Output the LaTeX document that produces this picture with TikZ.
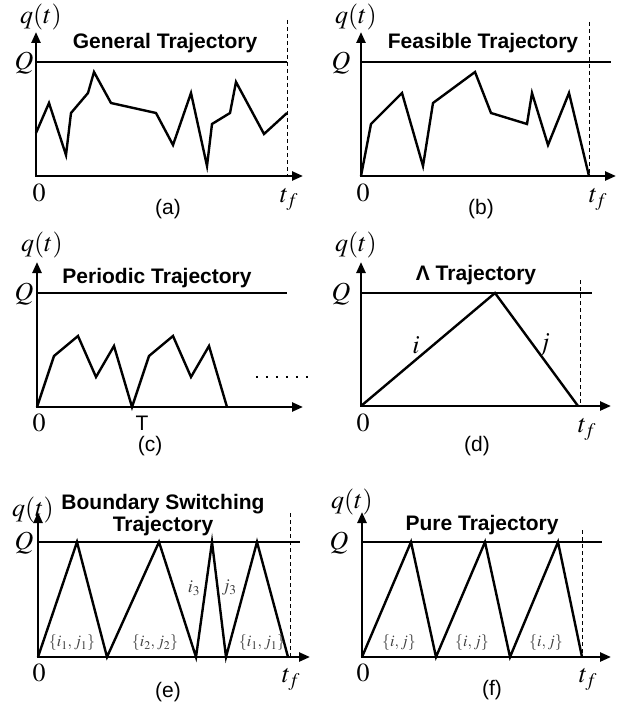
\documentclass[tikz,border=0pt]{standalone}
\usepackage{mathptmx}
\usepackage{fontspec}
\newfontfamily\arial{Liberation Sans}
\usetikzlibrary{arrows.meta}

\tikzset{
  trajline/.style={line width=2.4pt, line join=miter},
  axisline/.style={line width=2.4pt, {Triangle[length=11pt,width=9pt]}-{Triangle[length=11pt,width=9pt]}},
  capline/.style={line width=2.4pt},
  tfline/.style={line width=0.8pt, dash pattern=on 4pt off 3pt},
  titlefont/.style={font=\arial\bfseries\fontsize{21}{22}\selectfont, align=center},
  subfont/.style={font=\arial\fontsize{21}{23}\selectfont},
  mathfont/.style={font=\fontsize{26}{28}\selectfont},
  pairfont/.style={font=\fontsize{16}{18}\selectfont, text=black!75},
}

\begin{document}
\begin{tikzpicture}[x=1pt,y=-1pt]
\useasboundingbox (0,0) rectangle (628,706);

% (a) general
\draw [axisline] (36,32) -- (36,176) -- (303,176);
\draw [capline] (36,62) -- (287,62);
\draw [tfline] (287,20) -- (287,176);
\draw [trajline] (36,133) -- (49,103) -- (66,155) -- (71,113) -- (88,93) -- (94,72) -- (111,103)
  -- (156,113) -- (173,145) -- (191,93) -- (207,166) -- (212,124) -- (230,113) -- (236,82)
  -- (264,134) -- (287,113);
\node [titlefont] (tita) at (165,43) {General Trajectory};
\node [mathfont, anchor=north] (qa) at (41,0) {$q(t)$};
\node [mathfont] (Qa) at (24,63) {$Q$};
\node [mathfont] (za) at (39,193) {$0$};
\node [mathfont] (tfa) at (289,199) {$t_f$};
\node [subfont] (suba) at (168,209) {(a)};

% (b) feasible
\draw [axisline] (361,32) -- (361,176) -- (616,176);
\draw [capline] (361,62) -- (611,62);
\draw [tfline] (589,22) -- (589,176);
\draw [trajline] (361,176) -- (371,124) -- (402,93) -- (423,166) -- (433,103) -- (475,72)
  -- (491,113) -- (527,124) -- (532,93) -- (548,145) -- (569,93) -- (589,176);
\node [titlefont] (titb) at (483,43) {Feasible Trajectory};
\node [mathfont, anchor=north] (qb) at (356,0) {$q(t)$};
\node [mathfont] (Qb) at (341,63) {$Q$};
\node [mathfont] (zb) at (363,193) {$0$};
\node [mathfont] (tfb) at (598,199) {$t_f$};
\node [subfont] (subb) at (481,209) {(b)};

% (c) periodic
\draw [axisline] (37,262) -- (37,407) -- (303,407);
\draw [capline] (37,293) -- (287,293);
\draw [trajline] (37,407) -- (54,356) -- (78,336) -- (96,377) -- (114,346) -- (132,407)
  -- (149,356) -- (173,336) -- (191,377) -- (209,346) -- (227,407);
\draw [line width=2.4pt, dash pattern=on 2.4pt off 7.6pt] (256,377) -- (310,377);
\node [titlefont] (titc) at (157,278) {Periodic Trajectory};
\node [mathfont] (qc) at (42,245) {$q(t)$};
\node [mathfont] (Qc) at (24,294) {$Q$};
\node [mathfont] (zc) at (39,423) {$0$};
\node [subfont] (Tc) at (142,423) {T};
\node [subfont] (subc) at (150,446) {(c)};

% (d) lambda
\draw [axisline] (361,262) -- (361,406) -- (611,406);
\draw [capline] (361,293) -- (592,293);
\draw [tfline] (580,280) -- (580,406);
\draw [trajline] (361,406) -- (495,293) -- (578,406);
\node [titlefont] (titd) at (476,275) {Λ Trajectory};
\node [mathfont] (qd) at (356,245) {$q(t)$};
\node [mathfont] (Qd) at (341,294) {$Q$};
\node [mathfont] (zd) at (363,423) {$0$};
\node [mathfont] (tfd) at (587,429) {$t_f$};
\node [subfont] (subd) at (477,446) {(d)};
\node [mathfont] (id) at (416,345) {$i$};
\node [mathfont] (jd) at (544,345) {$j$};

% (e) boundary switching
\draw [axisline] (38,512) -- (38,657) -- (310,657);
\draw [capline] (38,542) -- (300,542);
\draw [tfline] (290,513) -- (290,657);
\draw [trajline] (38,657) -- (77,542) -- (107,657) -- (159,542) -- (196,657) -- (212,542)
  -- (226,657) -- (257,542) -- (288,657);
\node [titlefont] (tite) at (163,515) {Boundary Switching\\Trajectory};
\node [mathfont] (qe) at (33,510) {$q(t)$};
\node [mathfont] (Qe) at (24,543) {$Q$};
\node [mathfont] (ze) at (39,673) {$0$};
\node [mathfont] (tfe) at (291,679) {$t_f$};
\node [subfont] (sube) at (168,692) {(e)};
\node [pairfont] (pe1) at (72,643) {$\{i_1,j_1\}$};
\node [pairfont] (pe2) at (155,643) {$\{i_2,j_2\}$};
\node [pairfont] (pe3) at (262,643) {$\{i_1,j_1\}$};
\node [pairfont, font=\fontsize{18}{20}\selectfont] (ie) at (194,588) {$i_3$};
\node [pairfont, font=\fontsize{18}{20}\selectfont] (je) at (229,588) {$j_3$};

% (f) pure
\draw [axisline] (362,512) -- (362,657) -- (611,657);
\draw [capline] (362,542) -- (602,542);
\draw [tfline] (582,530) -- (582,657);
\draw [trajline] (362,657) -- (411,542) -- (436,657) -- (485,542) -- (510,657) -- (558,542)
  -- (582,657);
\node [titlefont] (titf) at (482,525) {Pure Trajectory};
\node [mathfont] (qf) at (352,502) {$q(t)$};
\node [mathfont] (Qf) at (339,543) {$Q$};
\node [mathfont] (zf) at (363,673) {$0$};
\node [mathfont] (tff) at (588,679) {$t_f$};
\node [subfont] (subf) at (492,690) {(f)};
\node [pairfont] (pf1) at (399,643) {$\{i,j\}$};
\node [pairfont] (pf2) at (472,643) {$\{i,j\}$};
\node [pairfont] (pf3) at (546,643) {$\{i,j\}$};
\end{tikzpicture}
\end{document}
